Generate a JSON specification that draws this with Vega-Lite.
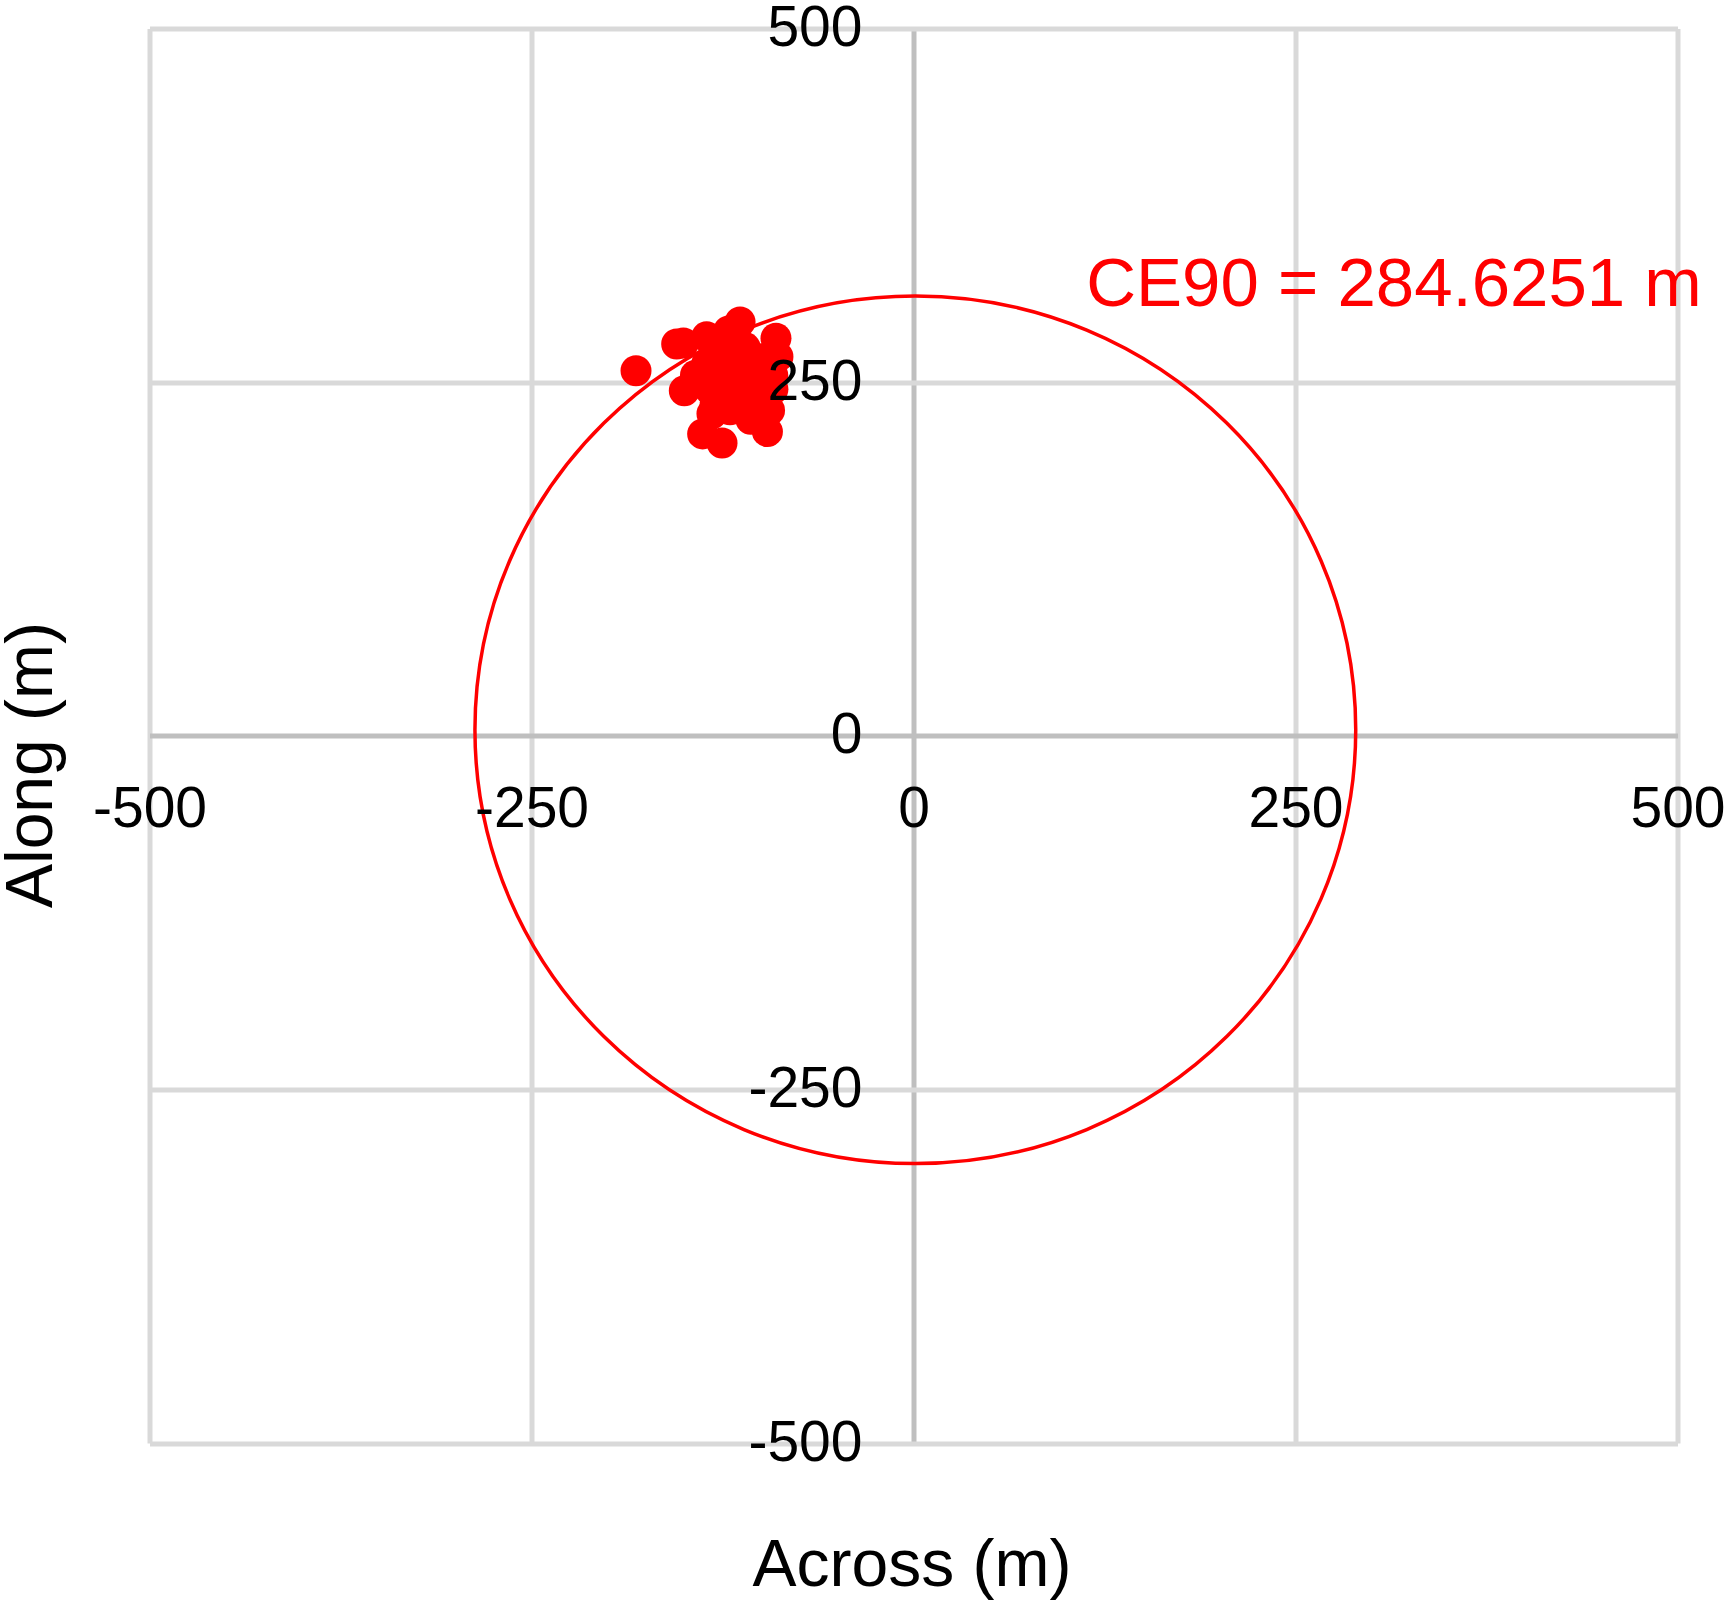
{
  "$schema": "https://vega.github.io/schema/vega-lite/v6.json",
  "width": 1528,
  "height": 1414.5,
  "autosize": {"type": "none"},
  "padding": {"left": 149.5, "top": 28.5, "right": 53.5, "bottom": 170},
  "background": "white",
  "config": {"view": {"stroke": null}, "font": "Liberation Sans"},
  "datasets": {
    "ce90": [{"x": 1.2, "y": 4.2, "label": "CE90 = 284.6251 m"}],
    "label": [{"x": 113, "y": 304, "label": "CE90 = 284.6251 m"}],
    "points": [
      {"x": -181.6, "y": 258}, {"x": -155, "y": 277}, {"x": -150.6, "y": 277.6},
      {"x": -135.4, "y": 282}, {"x": -113.5, "y": 292.6}, {"x": -90, "y": 281},
      {"x": -88.7, "y": 268}, {"x": -92, "y": 245}, {"x": -94.2, "y": 230},
      {"x": -95.6, "y": 215}, {"x": -125.3, "y": 207}, {"x": -138, "y": 213.4},
      {"x": -150, "y": 243.9}, {"x": -126.6, "y": 251.6}, {"x": -113.5, "y": 258.6},
      {"x": -133.2, "y": 244.8}, {"x": -110.3, "y": 244.6}, {"x": -120.1, "y": 230.4},
      {"x": -103.7, "y": 258.7}, {"x": -129.9, "y": 233.9}, {"x": -100.5, "y": 258.6},
      {"x": -139.7, "y": 251.6}, {"x": -123.4, "y": 244.8}, {"x": -107, "y": 230.4},
      {"x": -116.8, "y": 283.7},
      {"x": -128.2, "y": 270.5}, {"x": -110.1, "y": 274.4}, {"x": -99.3, "y": 266.6},
      {"x": -135.4, "y": 262.7}, {"x": -117.3, "y": 258.8}, {"x": -142.7, "y": 254.9},
      {"x": -117.3, "y": 239.3}, {"x": -99.3, "y": 235.4}, {"x": -131.9, "y": 227.6},
      {"x": -106.5, "y": 223.7}, {"x": -121, "y": 286.1}, {"x": -92.1, "y": 254.9}
    ]
  },
  "layer": [
    {
      "data": {"name": "ce90"},
      "mark": {"type": "point", "shape": "M -1 0 A 1 0.985 0 1 1 1 0 A 1 0.985 0 1 1 -1 0 Z", "size": 775800, "filled": false, "stroke": "#ff0000", "strokeWidth": 3.5, "opacity": 1},
      "encoding": {
        "x": {"field": "x", "type": "quantitative", "scale": {"domain": [-500, 500], "nice": false, "zero": false},
          "axis": {"orient": "bottom", "values": [-500, -250, 0, 250, 500], "grid": true,
            "gridColor": {"condition": {"test": "datum.value === 0", "value": "#bfbfbf"}, "value": "#d9d9d9"},
            "gridWidth": 5, "gridOpacity": 1, "labels": false, "ticks": false, "domain": false, "title": null, "zindex": 0}},
        "y": {"field": "y", "type": "quantitative", "scale": {"domain": [-500, 500], "nice": false, "zero": false},
          "axis": {"orient": "left", "values": [-500, -250, 0, 250, 500], "grid": true,
            "gridColor": {"condition": {"test": "datum.value === 0", "value": "#bfbfbf"}, "value": "#d9d9d9"},
            "gridWidth": 5, "gridOpacity": 1, "labels": false, "ticks": false, "domain": false, "title": null, "zindex": 0}}
      }
    },
    {
      "data": {"name": "points"},
      "mark": {"type": "circle", "size": 960, "color": "#ff0000", "opacity": 1},
      "encoding": {
        "x": {"field": "x", "type": "quantitative",
          "axis": {"orient": "bottom", "values": [-500, -250, 0, 250, 500], "grid": false, "domain": false, "ticks": false, "tickSize": 0,
            "offset": -707.25, "labelPadding": 46, "labelFontSize": 57, "labelColor": "#000000", "labelFont": "Liberation Sans",
            "labelFlush": false, "labelOverlap": false,
            "labelExpr": "datum.value < 0 ? '-' + abs(datum.value) : '' + datum.value",
            "title": "Across (m)", "titleFontSize": 66, "titleFontWeight": "normal", "titleColor": "#000000", "titleFont": "Liberation Sans",
            "titleX": 762, "titleY": 849.25, "titleBaseline": "alphabetic", "titleAlign": "center", "zindex": 1}},
        "y": {"field": "y", "type": "quantitative",
          "axis": {"orient": "left", "values": [-500, -250, 0, 250, 500], "grid": false, "domain": false, "ticks": false, "tickSize": 0,
            "offset": -764, "labelPadding": 51.5, "labelFontSize": 57, "labelColor": "#000000", "labelFont": "Liberation Sans",
            "labelFlush": false, "labelOverlap": false,
            "labelExpr": "datum.value < 0 ? '-' + abs(datum.value) : '' + datum.value",
            "title": "Along (m)", "titleFontSize": 66, "titleFontWeight": "normal", "titleColor": "#000000", "titleFont": "Liberation Sans",
            "titleX": -861.8, "titleY": 736, "titleAngle": -90, "titleBaseline": "alphabetic", "titleAlign": "center", "zindex": 1}}
      }
    },
    {
      "data": {"name": "label"},
      "mark": {"type": "text", "align": "left", "baseline": "alphabetic", "fontSize": 69, "color": "#ff0000", "font": "Liberation Sans"},
      "encoding": {
        "x": {"field": "x", "type": "quantitative", "axis": null},
        "y": {"field": "y", "type": "quantitative", "axis": null},
        "text": {"field": "label"}
      }
    }
  ],
  "resolve": {"axis": {"x": "independent", "y": "independent"}}
}
